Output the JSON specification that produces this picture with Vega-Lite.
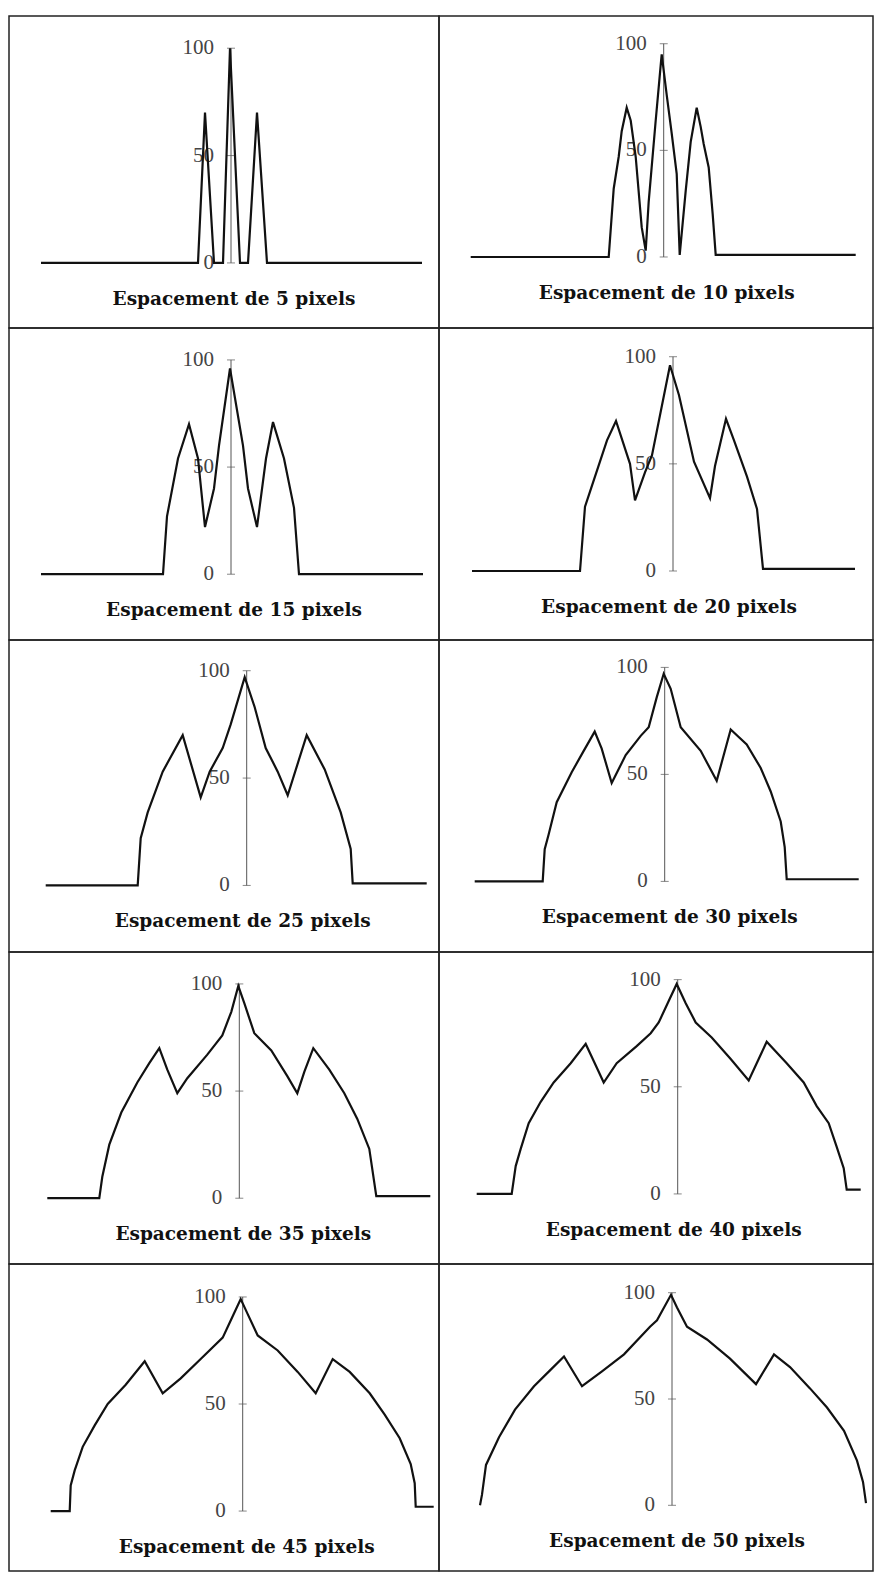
{
  "$schema": "https://vega.github.io/schema/vega-lite/v6.json",
  "padding": {"left": 8, "top": 15, "right": 2, "bottom": 2},
  "autosize": {"type": "pad"},
  "background": "white",
  "columns": 2,
  "spacing": 0,
  "align": "each",
  "bounds": "flush",
  "config": {
    "view": {"stroke": "#222222", "strokeWidth": 1.5},
    "axis": {"domain": false, "ticks": false, "labels": false, "grid": false}
  },
  "datasets": {
    "ticks": [{"x": 0, "y": 0}, {"x": 0, "y": 50}, {"x": 0, "y": 100}],
    "caps": [
      {"s": 5, "x": 0, "y": 0, "cap": "Espacement de 5 pixels"},
      {"s": 10, "x": 0, "y": 0, "cap": "Espacement de 10 pixels"},
      {"s": 15, "x": 0, "y": 0, "cap": "Espacement de 15 pixels"},
      {"s": 20, "x": 0, "y": 0, "cap": "Espacement de 20 pixels"},
      {"s": 25, "x": 0, "y": 0, "cap": "Espacement de 25 pixels"},
      {"s": 30, "x": 0, "y": 0, "cap": "Espacement de 30 pixels"},
      {"s": 35, "x": 0, "y": 0, "cap": "Espacement de 35 pixels"},
      {"s": 40, "x": 0, "y": 0, "cap": "Espacement de 40 pixels"},
      {"s": 45, "x": 0, "y": 0, "cap": "Espacement de 45 pixels"},
      {"s": 50, "x": 0, "y": 0, "cap": "Espacement de 50 pixels"}
    ],
    "prof": [
      {"s":5,"x":-190,"y":0},{"s":5,"x":-33,"y":0},{"s":5,"x":-26,"y":70},{"s":5,"x":-17,"y":0},{"s":5,"x":-8,"y":0},{"s":5,"x":-1,"y":100},{"s":5,"x":9,"y":0},{"s":5,"x":17,"y":0},{"s":5,"x":26,"y":70},{"s":5,"x":36,"y":0},{"s":5,"x":191,"y":0},

      {"s":10,"x":-193,"y":0},{"s":10,"x":-55,"y":0},{"s":10,"x":-50,"y":32},{"s":10,"x":-45,"y":47},{"s":10,"x":-42,"y":59},{"s":10,"x":-37,"y":70},{"s":10,"x":-33,"y":64},{"s":10,"x":-28,"y":47},{"s":10,"x":-22,"y":14},{"s":10,"x":-18,"y":3},{"s":10,"x":-15,"y":26},{"s":10,"x":-8,"y":64},{"s":10,"x":-3,"y":90},{"s":10,"x":-2,"y":95},{"s":10,"x":3,"y":76},{"s":10,"x":8,"y":58},{"s":10,"x":13,"y":39},{"s":10,"x":16,"y":1},{"s":10,"x":22,"y":31},{"s":10,"x":27,"y":54},{"s":10,"x":33,"y":70},{"s":10,"x":37,"y":61},{"s":10,"x":40,"y":53},{"s":10,"x":45,"y":42},{"s":10,"x":49,"y":20},{"s":10,"x":52,"y":1},{"s":10,"x":192,"y":1},

      {"s":15,"x":-190,"y":0},{"s":15,"x":-68,"y":0},{"s":15,"x":-64,"y":27},{"s":15,"x":-53,"y":54},{"s":15,"x":-42,"y":70},{"s":15,"x":-33,"y":54},{"s":15,"x":-26,"y":22},{"s":15,"x":-17,"y":40},{"s":15,"x":-12,"y":60},{"s":15,"x":-1,"y":96},{"s":15,"x":12,"y":60},{"s":15,"x":17,"y":40},{"s":15,"x":26,"y":22},{"s":15,"x":35,"y":54},{"s":15,"x":42,"y":71},{"s":15,"x":53,"y":54},{"s":15,"x":63,"y":31},{"s":15,"x":68,"y":0},{"s":15,"x":192,"y":0},

      {"s":20,"x":-201,"y":0},{"s":20,"x":-93,"y":0},{"s":20,"x":-88,"y":30},{"s":20,"x":-83,"y":37},{"s":20,"x":-66,"y":61},{"s":20,"x":-57,"y":70},{"s":20,"x":-43,"y":50},{"s":20,"x":-38,"y":33},{"s":20,"x":-28,"y":46},{"s":20,"x":-21,"y":54},{"s":20,"x":-3,"y":96},{"s":20,"x":6,"y":82},{"s":20,"x":21,"y":51},{"s":20,"x":37,"y":34},{"s":20,"x":42,"y":49},{"s":20,"x":53,"y":71},{"s":20,"x":61,"y":61},{"s":20,"x":74,"y":44},{"s":20,"x":84,"y":29},{"s":20,"x":90,"y":1},{"s":20,"x":182,"y":1},

      {"s":25,"x":-201,"y":0},{"s":25,"x":-109,"y":0},{"s":25,"x":-106,"y":22},{"s":25,"x":-99,"y":34},{"s":25,"x":-84,"y":53},{"s":25,"x":-64,"y":70},{"s":25,"x":-46,"y":41},{"s":25,"x":-37,"y":53},{"s":25,"x":-24,"y":64},{"s":25,"x":-16,"y":75},{"s":25,"x":-2,"y":97},{"s":25,"x":8,"y":83},{"s":25,"x":19,"y":64},{"s":25,"x":31,"y":53},{"s":25,"x":41,"y":42},{"s":25,"x":60,"y":70},{"s":25,"x":78,"y":54},{"s":25,"x":94,"y":34},{"s":25,"x":104,"y":17},{"s":25,"x":106,"y":1},{"s":25,"x":180,"y":1},

      {"s":30,"x":-190,"y":0},{"s":30,"x":-122,"y":0},{"s":30,"x":-120,"y":15},{"s":30,"x":-116,"y":22},{"s":30,"x":-108,"y":37},{"s":30,"x":-93,"y":51},{"s":30,"x":-81,"y":61},{"s":30,"x":-70,"y":70},{"s":30,"x":-63,"y":62},{"s":30,"x":-53,"y":46},{"s":30,"x":-39,"y":59},{"s":30,"x":-24,"y":68},{"s":30,"x":-16,"y":72},{"s":30,"x":-8,"y":86},{"s":30,"x":-1,"y":97},{"s":30,"x":6,"y":90},{"s":30,"x":16,"y":72},{"s":30,"x":36,"y":61},{"s":30,"x":52,"y":47},{"s":30,"x":66,"y":71},{"s":30,"x":82,"y":64},{"s":30,"x":96,"y":53},{"s":30,"x":106,"y":42},{"s":30,"x":116,"y":28},{"s":30,"x":120,"y":16},{"s":30,"x":122,"y":1},{"s":30,"x":194,"y":1},

      {"s":35,"x":-192,"y":0},{"s":35,"x":-140,"y":0},{"s":35,"x":-137,"y":10},{"s":35,"x":-130,"y":25},{"s":35,"x":-118,"y":40},{"s":35,"x":-102,"y":54},{"s":35,"x":-90,"y":63},{"s":35,"x":-80,"y":70},{"s":35,"x":-72,"y":60},{"s":35,"x":-62,"y":49},{"s":35,"x":-52,"y":56},{"s":35,"x":-32,"y":67},{"s":35,"x":-17,"y":76},{"s":35,"x":-8,"y":87},{"s":35,"x":-1,"y":99},{"s":35,"x":5,"y":91},{"s":35,"x":15,"y":77},{"s":35,"x":32,"y":69},{"s":35,"x":48,"y":57},{"s":35,"x":58,"y":49},{"s":35,"x":65,"y":59},{"s":35,"x":74,"y":70},{"s":35,"x":90,"y":60},{"s":35,"x":105,"y":49},{"s":35,"x":118,"y":37},{"s":35,"x":130,"y":23},{"s":35,"x":137,"y":1},{"s":35,"x":191,"y":1},

      {"s":40,"x":-201,"y":0},{"s":40,"x":-166,"y":0},{"s":40,"x":-162,"y":13},{"s":40,"x":-157,"y":21},{"s":40,"x":-149,"y":33},{"s":40,"x":-137,"y":43},{"s":40,"x":-124,"y":52},{"s":40,"x":-107,"y":61},{"s":40,"x":-92,"y":70},{"s":40,"x":-84,"y":62},{"s":40,"x":-74,"y":52},{"s":40,"x":-61,"y":61},{"s":40,"x":-41,"y":69},{"s":40,"x":-27,"y":75},{"s":40,"x":-19,"y":80},{"s":40,"x":-9,"y":90},{"s":40,"x":-1,"y":98},{"s":40,"x":8,"y":89},{"s":40,"x":18,"y":80},{"s":40,"x":34,"y":73},{"s":40,"x":53,"y":63},{"s":40,"x":71,"y":53},{"s":40,"x":81,"y":63},{"s":40,"x":89,"y":71},{"s":40,"x":109,"y":61},{"s":40,"x":126,"y":52},{"s":40,"x":139,"y":41},{"s":40,"x":151,"y":33},{"s":40,"x":159,"y":22},{"s":40,"x":166,"y":12},{"s":40,"x":169,"y":2},{"s":40,"x":183,"y":2},

      {"s":45,"x":-192,"y":0},{"s":45,"x":-173,"y":0},{"s":45,"x":-172,"y":12},{"s":45,"x":-168,"y":19},{"s":45,"x":-160,"y":30},{"s":45,"x":-148,"y":40},{"s":45,"x":-135,"y":50},{"s":45,"x":-117,"y":59},{"s":45,"x":-98,"y":70},{"s":45,"x":-80,"y":55},{"s":45,"x":-62,"y":62},{"s":45,"x":-42,"y":71},{"s":45,"x":-20,"y":81},{"s":45,"x":-12,"y":89},{"s":45,"x":-2,"y":99},{"s":45,"x":5,"y":92},{"s":45,"x":15,"y":82},{"s":45,"x":35,"y":75},{"s":45,"x":55,"y":65},{"s":45,"x":73,"y":55},{"s":45,"x":90,"y":71},{"s":45,"x":107,"y":65},{"s":45,"x":127,"y":55},{"s":45,"x":142,"y":45},{"s":45,"x":157,"y":34},{"s":45,"x":168,"y":22},{"s":45,"x":172,"y":13},{"s":45,"x":173,"y":2},{"s":45,"x":191,"y":2},

      {"s":50,"x":-192,"y":0},{"s":50,"x":-190,"y":5},{"s":50,"x":-186,"y":19},{"s":50,"x":-173,"y":32},{"s":50,"x":-157,"y":45},{"s":50,"x":-138,"y":56},{"s":50,"x":-123,"y":63},{"s":50,"x":-108,"y":70},{"s":50,"x":-90,"y":56},{"s":50,"x":-70,"y":63},{"s":50,"x":-48,"y":71},{"s":50,"x":-22,"y":84},{"s":50,"x":-15,"y":87},{"s":50,"x":-1,"y":99},{"s":50,"x":5,"y":93},{"s":50,"x":15,"y":84},{"s":50,"x":35,"y":78},{"s":50,"x":58,"y":69},{"s":50,"x":84,"y":57},{"s":50,"x":102,"y":71},{"s":50,"x":118,"y":65},{"s":50,"x":138,"y":55},{"s":50,"x":155,"y":46},{"s":50,"x":172,"y":35},{"s":50,"x":185,"y":21},{"s":50,"x":191,"y":11},{"s":50,"x":194,"y":1}
    ]
  },
  "concat": [
    {
      "width": 430, "height": 312,
      "encoding": {
        "x": {"field": "x", "type": "quantitative", "axis": null, "scale": {"domain": [-222, 208], "nice": false, "zero": false}},
        "y": {"field": "y", "type": "quantitative", "axis": null, "scale": {"domain": [-30.3, 115.0], "nice": false, "zero": false}}
      },
      "layer": [
        {"data": {"name": "ticks"}, "mark": {"type": "rule", "color": "#555555", "strokeWidth": 1}, "encoding": {"y": {"aggregate": "min", "field": "y", "type": "quantitative", "axis": null}, "y2": {"aggregate": "max", "field": "y"}}},
        {"data": {"name": "ticks"}, "mark": {"type": "tick", "orient": "horizontal", "color": "#555555", "size": 8, "thickness": 1}},
        {"data": {"name": "ticks"}, "mark": {"type": "text", "align": "right", "baseline": "middle", "dx": -17, "font": "Liberation Serif", "fontSize": 21, "color": "#444444"}, "encoding": {"text": {"field": "y"}}},
        {"data": {"name": "prof"}, "transform": [{"filter": "datum.s == 5"}], "mark": {"type": "line", "color": "#111111", "strokeWidth": 2.2}},
        {"data": {"name": "caps"}, "transform": [{"filter": "datum.s == 5"}], "mark": {"type": "text", "align": "center", "baseline": "middle", "dx": 3, "dy": 36, "font": "DejaVu Serif", "fontWeight": "bold", "fontSize": 18.5, "color": "#111111"}, "encoding": {"text": {"field": "cap"}}}
      ]
    },
    {
      "width": 434, "height": 312,
      "encoding": {
        "x": {"field": "x", "type": "quantitative", "axis": null, "scale": {"domain": [-224.7, 209.3], "nice": false, "zero": false}},
        "y": {"field": "y", "type": "quantitative", "axis": null, "scale": {"domain": [-33.3, 113.0], "nice": false, "zero": false}}
      },
      "layer": [
        {"data": {"name": "ticks"}, "mark": {"type": "rule", "color": "#555555", "strokeWidth": 1}, "encoding": {"y": {"aggregate": "min", "field": "y", "type": "quantitative", "axis": null}, "y2": {"aggregate": "max", "field": "y"}}},
        {"data": {"name": "ticks"}, "mark": {"type": "tick", "orient": "horizontal", "color": "#555555", "size": 8, "thickness": 1}},
        {"data": {"name": "ticks"}, "mark": {"type": "text", "align": "right", "baseline": "middle", "dx": -17, "font": "Liberation Serif", "fontSize": 21, "color": "#444444"}, "encoding": {"text": {"field": "y"}}},
        {"data": {"name": "prof"}, "transform": [{"filter": "datum.s == 10"}], "mark": {"type": "line", "color": "#111111", "strokeWidth": 2.2}},
        {"data": {"name": "caps"}, "transform": [{"filter": "datum.s == 10"}], "mark": {"type": "text", "align": "center", "baseline": "middle", "dx": 3, "dy": 36, "font": "DejaVu Serif", "fontWeight": "bold", "fontSize": 18.5, "color": "#111111"}, "encoding": {"text": {"field": "cap"}}}
      ]
    },
    {
      "width": 430, "height": 312,
      "encoding": {
        "x": {"field": "x", "type": "quantitative", "axis": null, "scale": {"domain": [-222, 208], "nice": false, "zero": false}},
        "y": {"field": "y", "type": "quantitative", "axis": null, "scale": {"domain": [-30.7, 114.9], "nice": false, "zero": false}}
      },
      "layer": [
        {"data": {"name": "ticks"}, "mark": {"type": "rule", "color": "#555555", "strokeWidth": 1}, "encoding": {"y": {"aggregate": "min", "field": "y", "type": "quantitative", "axis": null}, "y2": {"aggregate": "max", "field": "y"}}},
        {"data": {"name": "ticks"}, "mark": {"type": "tick", "orient": "horizontal", "color": "#555555", "size": 8, "thickness": 1}},
        {"data": {"name": "ticks"}, "mark": {"type": "text", "align": "right", "baseline": "middle", "dx": -17, "font": "Liberation Serif", "fontSize": 21, "color": "#444444"}, "encoding": {"text": {"field": "y"}}},
        {"data": {"name": "prof"}, "transform": [{"filter": "datum.s == 15"}], "mark": {"type": "line", "color": "#111111", "strokeWidth": 2.2}},
        {"data": {"name": "caps"}, "transform": [{"filter": "datum.s == 15"}], "mark": {"type": "text", "align": "center", "baseline": "middle", "dx": 3, "dy": 36, "font": "DejaVu Serif", "fontWeight": "bold", "fontSize": 18.5, "color": "#111111"}, "encoding": {"text": {"field": "cap"}}}
      ]
    },
    {
      "width": 434, "height": 312,
      "encoding": {
        "x": {"field": "x", "type": "quantitative", "axis": null, "scale": {"domain": [-234, 200], "nice": false, "zero": false}},
        "y": {"field": "y", "type": "quantitative", "axis": null, "scale": {"domain": [-32.2, 113.4], "nice": false, "zero": false}}
      },
      "layer": [
        {"data": {"name": "ticks"}, "mark": {"type": "rule", "color": "#555555", "strokeWidth": 1}, "encoding": {"y": {"aggregate": "min", "field": "y", "type": "quantitative", "axis": null}, "y2": {"aggregate": "max", "field": "y"}}},
        {"data": {"name": "ticks"}, "mark": {"type": "tick", "orient": "horizontal", "color": "#555555", "size": 8, "thickness": 1}},
        {"data": {"name": "ticks"}, "mark": {"type": "text", "align": "right", "baseline": "middle", "dx": -17, "font": "Liberation Serif", "fontSize": 21, "color": "#444444"}, "encoding": {"text": {"field": "y"}}},
        {"data": {"name": "prof"}, "transform": [{"filter": "datum.s == 20"}], "mark": {"type": "line", "color": "#111111", "strokeWidth": 2.2}},
        {"data": {"name": "caps"}, "transform": [{"filter": "datum.s == 20"}], "mark": {"type": "text", "align": "center", "baseline": "middle", "dx": -4, "dy": 36, "font": "DejaVu Serif", "fontWeight": "bold", "fontSize": 18.5, "color": "#111111"}, "encoding": {"text": {"field": "cap"}}}
      ]
    },
    {
      "width": 430, "height": 312,
      "encoding": {
        "x": {"field": "x", "type": "quantitative", "axis": null, "scale": {"domain": [-237.7, 192.3], "nice": false, "zero": false}},
        "y": {"field": "y", "type": "quantitative", "axis": null, "scale": {"domain": [-31.0, 114.3], "nice": false, "zero": false}}
      },
      "layer": [
        {"data": {"name": "ticks"}, "mark": {"type": "rule", "color": "#555555", "strokeWidth": 1}, "encoding": {"y": {"aggregate": "min", "field": "y", "type": "quantitative", "axis": null}, "y2": {"aggregate": "max", "field": "y"}}},
        {"data": {"name": "ticks"}, "mark": {"type": "tick", "orient": "horizontal", "color": "#555555", "size": 8, "thickness": 1}},
        {"data": {"name": "ticks"}, "mark": {"type": "text", "align": "right", "baseline": "middle", "dx": -17, "font": "Liberation Serif", "fontSize": 21, "color": "#444444"}, "encoding": {"text": {"field": "y"}}},
        {"data": {"name": "prof"}, "transform": [{"filter": "datum.s == 25"}], "mark": {"type": "line", "color": "#111111", "strokeWidth": 2.2}},
        {"data": {"name": "caps"}, "transform": [{"filter": "datum.s == 25"}], "mark": {"type": "text", "align": "center", "baseline": "middle", "dx": -4, "dy": 36, "font": "DejaVu Serif", "fontWeight": "bold", "fontSize": 18.5, "color": "#111111"}, "encoding": {"text": {"field": "cap"}}}
      ]
    },
    {
      "width": 434, "height": 312,
      "encoding": {
        "x": {"field": "x", "type": "quantitative", "axis": null, "scale": {"domain": [-225.7, 208.3], "nice": false, "zero": false}},
        "y": {"field": "y", "type": "quantitative", "axis": null, "scale": {"domain": [-33.0, 112.8], "nice": false, "zero": false}}
      },
      "layer": [
        {"data": {"name": "ticks"}, "mark": {"type": "rule", "color": "#555555", "strokeWidth": 1}, "encoding": {"y": {"aggregate": "min", "field": "y", "type": "quantitative", "axis": null}, "y2": {"aggregate": "max", "field": "y"}}},
        {"data": {"name": "ticks"}, "mark": {"type": "tick", "orient": "horizontal", "color": "#555555", "size": 8, "thickness": 1}},
        {"data": {"name": "ticks"}, "mark": {"type": "text", "align": "right", "baseline": "middle", "dx": -17, "font": "Liberation Serif", "fontSize": 21, "color": "#444444"}, "encoding": {"text": {"field": "y"}}},
        {"data": {"name": "prof"}, "transform": [{"filter": "datum.s == 30"}], "mark": {"type": "line", "color": "#111111", "strokeWidth": 2.2}},
        {"data": {"name": "caps"}, "transform": [{"filter": "datum.s == 30"}], "mark": {"type": "text", "align": "center", "baseline": "middle", "dx": 5, "dy": 36, "font": "DejaVu Serif", "fontWeight": "bold", "fontSize": 18.5, "color": "#111111"}, "encoding": {"text": {"field": "cap"}}}
      ]
    },
    {
      "width": 430, "height": 312,
      "encoding": {
        "x": {"field": "x", "type": "quantitative", "axis": null, "scale": {"domain": [-230.3, 199.7], "nice": false, "zero": false}},
        "y": {"field": "y", "type": "quantitative", "axis": null, "scale": {"domain": [-30.7, 114.9], "nice": false, "zero": false}}
      },
      "layer": [
        {"data": {"name": "ticks"}, "mark": {"type": "rule", "color": "#555555", "strokeWidth": 1}, "encoding": {"y": {"aggregate": "min", "field": "y", "type": "quantitative", "axis": null}, "y2": {"aggregate": "max", "field": "y"}}},
        {"data": {"name": "ticks"}, "mark": {"type": "tick", "orient": "horizontal", "color": "#555555", "size": 8, "thickness": 1}},
        {"data": {"name": "ticks"}, "mark": {"type": "text", "align": "right", "baseline": "middle", "dx": -17, "font": "Liberation Serif", "fontSize": 21, "color": "#444444"}, "encoding": {"text": {"field": "y"}}},
        {"data": {"name": "prof"}, "transform": [{"filter": "datum.s == 35"}], "mark": {"type": "line", "color": "#111111", "strokeWidth": 2.2}},
        {"data": {"name": "caps"}, "transform": [{"filter": "datum.s == 35"}], "mark": {"type": "text", "align": "center", "baseline": "middle", "dx": 4, "dy": 36, "font": "DejaVu Serif", "fontWeight": "bold", "fontSize": 18.5, "color": "#111111"}, "encoding": {"text": {"field": "cap"}}}
      ]
    },
    {
      "width": 434, "height": 312,
      "encoding": {
        "x": {"field": "x", "type": "quantitative", "axis": null, "scale": {"domain": [-238.7, 195.3], "nice": false, "zero": false}},
        "y": {"field": "y", "type": "quantitative", "axis": null, "scale": {"domain": [-32.7, 112.9], "nice": false, "zero": false}}
      },
      "layer": [
        {"data": {"name": "ticks"}, "mark": {"type": "rule", "color": "#555555", "strokeWidth": 1}, "encoding": {"y": {"aggregate": "min", "field": "y", "type": "quantitative", "axis": null}, "y2": {"aggregate": "max", "field": "y"}}},
        {"data": {"name": "ticks"}, "mark": {"type": "tick", "orient": "horizontal", "color": "#555555", "size": 8, "thickness": 1}},
        {"data": {"name": "ticks"}, "mark": {"type": "text", "align": "right", "baseline": "middle", "dx": -17, "font": "Liberation Serif", "fontSize": 21, "color": "#444444"}, "encoding": {"text": {"field": "y"}}},
        {"data": {"name": "prof"}, "transform": [{"filter": "datum.s == 40"}], "mark": {"type": "line", "color": "#111111", "strokeWidth": 2.2}},
        {"data": {"name": "caps"}, "transform": [{"filter": "datum.s == 40"}], "mark": {"type": "text", "align": "center", "baseline": "middle", "dx": -4, "dy": 36, "font": "DejaVu Serif", "fontWeight": "bold", "fontSize": 18.5, "color": "#111111"}, "encoding": {"text": {"field": "cap"}}}
      ]
    },
    {
      "width": 430, "height": 307,
      "encoding": {
        "x": {"field": "x", "type": "quantitative", "axis": null, "scale": {"domain": [-233.7, 196.3], "nice": false, "zero": false}},
        "y": {"field": "y", "type": "quantitative", "axis": null, "scale": {"domain": [-28.0, 115.4], "nice": false, "zero": false}}
      },
      "layer": [
        {"data": {"name": "ticks"}, "mark": {"type": "rule", "color": "#555555", "strokeWidth": 1}, "encoding": {"y": {"aggregate": "min", "field": "y", "type": "quantitative", "axis": null}, "y2": {"aggregate": "max", "field": "y"}}},
        {"data": {"name": "ticks"}, "mark": {"type": "tick", "orient": "horizontal", "color": "#555555", "size": 8, "thickness": 1}},
        {"data": {"name": "ticks"}, "mark": {"type": "text", "align": "right", "baseline": "middle", "dx": -17, "font": "Liberation Serif", "fontSize": 21, "color": "#444444"}, "encoding": {"text": {"field": "y"}}},
        {"data": {"name": "prof"}, "transform": [{"filter": "datum.s == 45"}], "mark": {"type": "line", "color": "#111111", "strokeWidth": 2.2}},
        {"data": {"name": "caps"}, "transform": [{"filter": "datum.s == 45"}], "mark": {"type": "text", "align": "center", "baseline": "middle", "dx": 4, "dy": 36, "font": "DejaVu Serif", "fontWeight": "bold", "fontSize": 18.5, "color": "#111111"}, "encoding": {"text": {"field": "cap"}}}
      ]
    },
    {
      "width": 434, "height": 307,
      "encoding": {
        "x": {"field": "x", "type": "quantitative", "axis": null, "scale": {"domain": [-233, 201], "nice": false, "zero": false}},
        "y": {"field": "y", "type": "quantitative", "axis": null, "scale": {"domain": [-30.9, 113.5], "nice": false, "zero": false}}
      },
      "layer": [
        {"data": {"name": "ticks"}, "mark": {"type": "rule", "color": "#555555", "strokeWidth": 1}, "encoding": {"y": {"aggregate": "min", "field": "y", "type": "quantitative", "axis": null}, "y2": {"aggregate": "max", "field": "y"}}},
        {"data": {"name": "ticks"}, "mark": {"type": "tick", "orient": "horizontal", "color": "#555555", "size": 8, "thickness": 1}},
        {"data": {"name": "ticks"}, "mark": {"type": "text", "align": "right", "baseline": "middle", "dx": -17, "font": "Liberation Serif", "fontSize": 21, "color": "#444444"}, "encoding": {"text": {"field": "y"}}},
        {"data": {"name": "prof"}, "transform": [{"filter": "datum.s == 50"}], "mark": {"type": "line", "color": "#111111", "strokeWidth": 2.2}},
        {"data": {"name": "caps"}, "transform": [{"filter": "datum.s == 50"}], "mark": {"type": "text", "align": "center", "baseline": "middle", "dx": 5, "dy": 36, "font": "DejaVu Serif", "fontWeight": "bold", "fontSize": 18.5, "color": "#111111"}, "encoding": {"text": {"field": "cap"}}}
      ]
    }
  ]
}
